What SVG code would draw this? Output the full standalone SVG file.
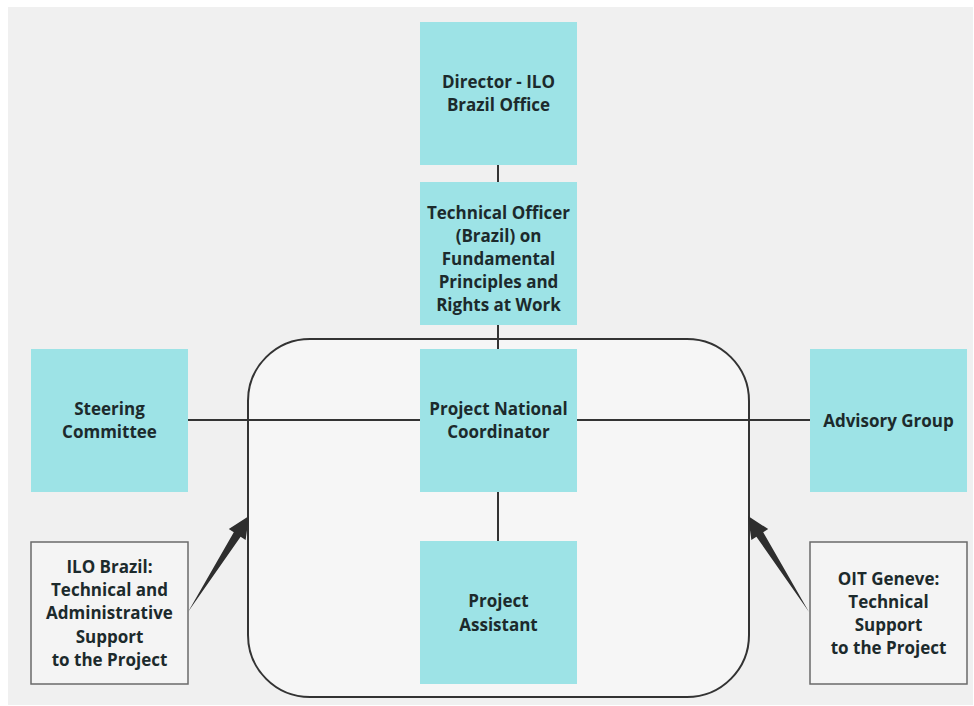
<svg xmlns="http://www.w3.org/2000/svg" width="974" height="706" viewBox="0 0 974 706">
<style>
.box{fill:#9de3e6}
.note{fill:#f4f4f4;stroke:#6a6a6a;stroke-width:1.5}
.lbl{font-family:"Open Sans","Noto Sans",sans-serif;font-weight:700;font-size:17px;fill:#1c2a2c;text-anchor:middle}
.ln{stroke:#333;stroke-width:2;fill:none}
.arr{fill:#2e2e2e}
</style>
<rect x="0" y="0" width="974" height="706" fill="#ffffff"/>
<rect x="8" y="7" width="965" height="698" fill="#f0f0f0"/>
<g id="container">
<rect x="248" y="339" width="501" height="358" rx="62" ry="62" fill="#f6f6f6" stroke="#333" stroke-width="2"/>
</g>
<g id="connectors">
<line class="ln" x1="498" y1="165" x2="498" y2="182"/>
<line class="ln" x1="498" y1="325" x2="498" y2="349"/>
<line class="ln" x1="188" y1="420" x2="810" y2="420"/>
<line class="ln" x1="498" y1="492" x2="498" y2="541"/>
<polygon class="arr" points="188,612 233.8,532.3 228.8,529.1 249,516 245.6,539.9 240.6,536.7"/>
<polygon class="arr" points="809,612 763.2,532.3 768.2,529.1 748,516 751.4,539.9 756.4,536.7"/>
</g>
<g id="director">
<rect class="box" x="420" y="22" width="157" height="143"/>
<text class="lbl" x="498.5" y="88">Director - ILO</text>
<text class="lbl" x="498.5" y="111">Brazil Office</text>
</g>
<g id="technical-officer">
<rect class="box" x="420" y="182" width="157" height="143"/>
<text class="lbl" x="498.5" y="219">Technical Officer</text>
<text class="lbl" x="498.5" y="242">(Brazil) on</text>
<text class="lbl" x="498.5" y="265">Fundamental</text>
<text class="lbl" x="498.5" y="288">Principles and</text>
<text class="lbl" x="498.5" y="311">Rights at Work</text>
</g>
<g id="coordinator">
<rect class="box" x="420" y="349" width="157" height="143"/>
<text class="lbl" x="498.5" y="415">Project National</text>
<text class="lbl" x="498.5" y="438">Coordinator</text>
</g>
<g id="steering">
<rect class="box" x="31" y="349" width="157" height="143"/>
<text class="lbl" x="109.5" y="415">Steering</text>
<text class="lbl" x="109.5" y="438">Committee</text>
</g>
<g id="advisory">
<rect class="box" x="810" y="349" width="157" height="143"/>
<text class="lbl" x="888.5" y="427">Advisory Group</text>
</g>
<g id="assistant">
<rect class="box" x="420" y="541" width="157" height="143"/>
<text class="lbl" x="498.5" y="607">Project</text>
<text class="lbl" x="498.5" y="631">Assistant</text>
</g>
<g id="ilo-brazil">
<rect class="note" x="31" y="542" width="157" height="142"/>
<text class="lbl" x="109.5" y="573">ILO Brazil:</text>
<text class="lbl" x="109.5" y="596">Technical and</text>
<text class="lbl" x="109.5" y="619">Administrative</text>
<text class="lbl" x="109.5" y="643">Support</text>
<text class="lbl" x="109.5" y="666">to the Project</text>
</g>
<g id="oit-geneve">
<rect class="note" x="810" y="542" width="157" height="142"/>
<text class="lbl" x="888.5" y="585">OIT Geneve:</text>
<text class="lbl" x="888.5" y="608">Technical</text>
<text class="lbl" x="888.5" y="631">Support</text>
<text class="lbl" x="888.5" y="654">to the Project</text>
</g>
</svg>
